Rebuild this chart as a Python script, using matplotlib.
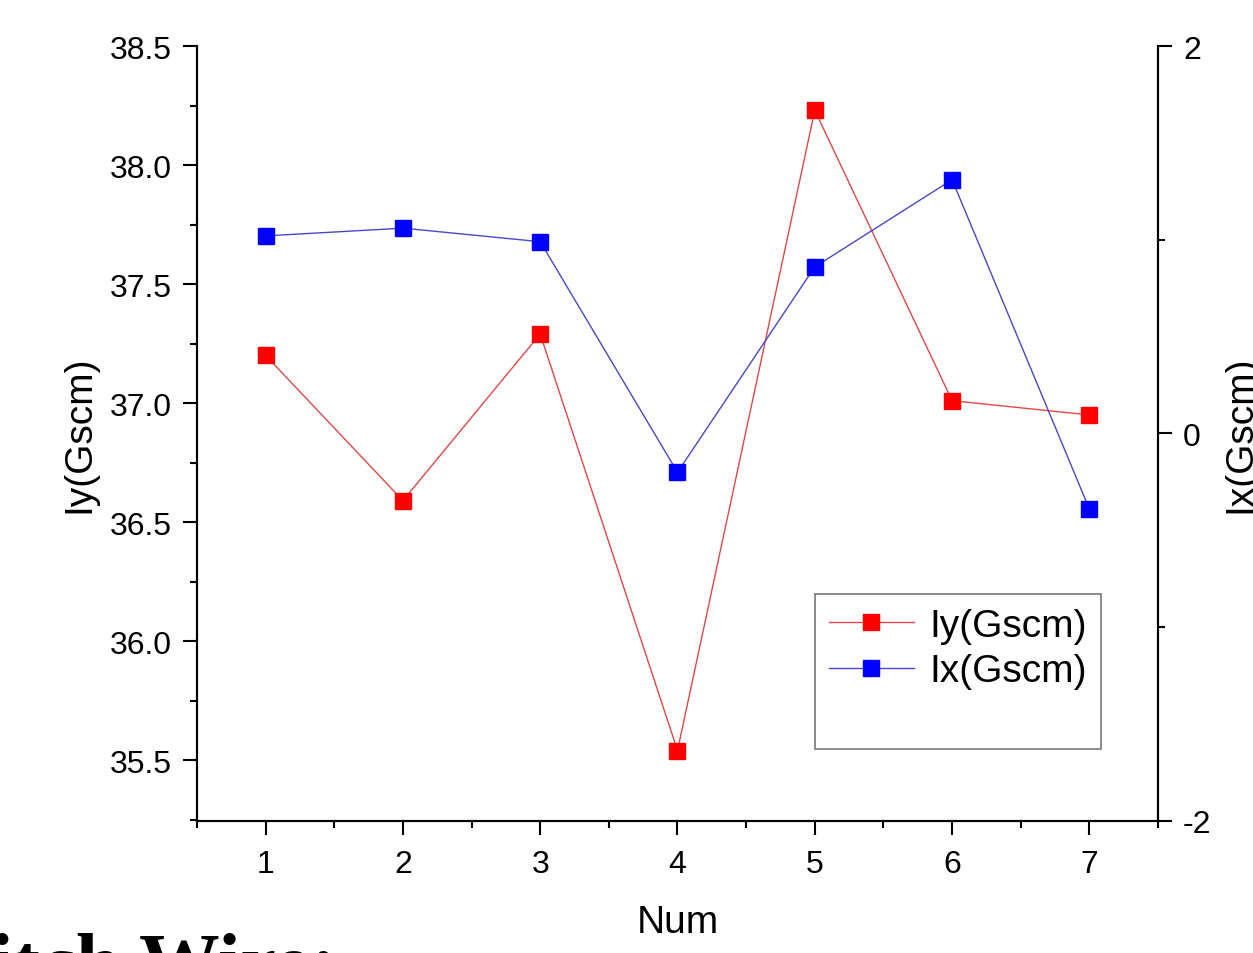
import matplotlib
matplotlib.use('Agg')
import matplotlib.pyplot as plt
from matplotlib.lines import Line2D
from matplotlib.ticker import MultipleLocator, FormatStrFormatter

num = [1, 2, 3, 4, 5, 6, 7]
iy = [37.20, 36.59, 37.29, 35.54, 38.23, 37.01, 36.95]
ix = [1.02, 1.06, 0.99, -0.20, 0.86, 1.31, -0.39]

plt.rcParams['font.family'] = ['Liberation Sans', 'DejaVu Sans']
plt.rcParams['axes.unicode_minus'] = False

fig = plt.figure(figsize=(12.53, 9.54), dpi=100)
ax = fig.add_axes([0.1572, 0.1384, 0.767, 0.8123])
ax2 = ax.twinx()

red_line, blue_line = '#e04848', '#4848c8'
ax.plot(num, iy, color=red_line, lw=1.0, marker='s', ms=11.5,
        mfc='#ff0000', mec='#ff0000')
ax2.plot(num, ix, color=blue_line, lw=1.0, marker='s', ms=11.5,
         mfc='#0000ff', mec='#0000ff')

ax.set_xlim(0.5, 7.5)
ax.set_ylim(35.244, 38.5)
ax2.set_ylim(-2, 2)

ax.xaxis.set_major_locator(MultipleLocator(1))
ax.xaxis.set_minor_locator(MultipleLocator(0.5))
ax.yaxis.set_major_locator(MultipleLocator(0.5))
ax.yaxis.set_minor_locator(MultipleLocator(0.25))
ax2.yaxis.set_major_locator(MultipleLocator(2))
ax2.yaxis.set_minor_locator(MultipleLocator(1))
ax.yaxis.set_major_formatter(FormatStrFormatter('%.1f'))

for a in (ax, ax2):
    a.spines['top'].set_visible(False)
    for s in a.spines.values():
        s.set_linewidth(1.5)
    a.tick_params(which='major', direction='out', length=10, width=1.5,
                  labelsize=23)
    a.tick_params(which='minor', direction='out', length=5, width=1.5)

ax.tick_params(axis='x', pad=10)
ax.tick_params(axis='y', pad=8)
ax2.tick_params(axis='y', pad=8)

ax.set_xlabel('Num', fontsize=28, labelpad=18)
ax.set_ylabel('Iy(Gscm)', fontsize=28, labelpad=9)
ax2.set_ylabel('Ix(Gscm)', fontsize=28, labelpad=8)

handles = [
    Line2D([], [], color=red_line, lw=1.0, marker='s', ms=11.5,
           mfc='#ff0000', mec='#ff0000'),
    Line2D([], [], color=blue_line, lw=1.0, marker='s', ms=11.5,
           mfc='#0000ff', mec='#0000ff'),
    Line2D([], [], color='none'),
]
leg = ax.legend(handles, ['Iy(Gscm)', 'Ix(Gscm)', ' '], loc='upper left',
                bbox_to_anchor=(0.643, 0.293), fontsize=28, frameon=True,
                fancybox=False, edgecolor='#555555', handlelength=2.2,
                handletextpad=0.4, labelspacing=0.25, borderpad=0.35,
                borderaxespad=0)
leg.get_frame().set_linewidth(1.2)

fig.text(337 / 1253, 1 - 989 / 954, 'Switch Wire:', fontsize=58,
         fontweight='bold', family='Liberation Serif', ha='right',
         va='baseline')

fig.savefig('out.png', dpi=100)
